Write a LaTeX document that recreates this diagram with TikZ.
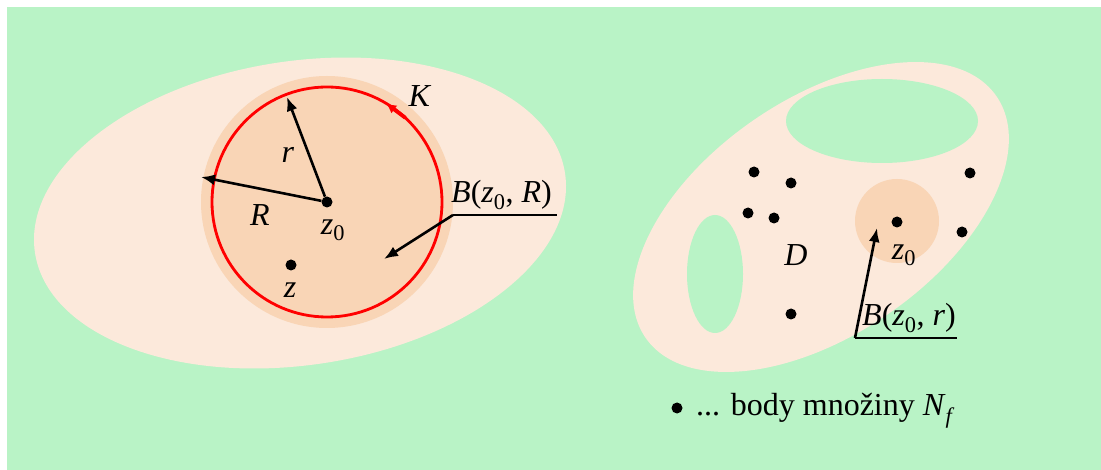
\documentclass[tikz,border=0pt]{standalone}
\usepackage{fontspec}
\setmainfont{Liberation Serif}
\usetikzlibrary{arrows.meta,calc}
\definecolor{bg}{RGB}{185,243,198}
\definecolor{peach}{RGB}{252,233,219}
\definecolor{disk}{RGB}{249,213,182}
\begin{document}
\begin{tikzpicture}[x=1pt,y=-1pt, font=\fontsize{32}{38}\selectfont,
  arr/.style={line width=2.6pt, -{Latex[length=14pt,width=11pt]}},
  dot/.style={circle, fill=black, inner sep=0pt, minimum size=11pt},
  lbl/.style={inner sep=0pt}]
\useasboundingbox (0,0) rectangle (1101,470);
\fill[bg] (7,7) rectangle (1101,470);
% ---------- left region ----------
\fill[peach, rotate around={8.5:(300,213)}] (300,213) ellipse [x radius=268, y radius=152];
\fill[disk] (327,202) circle [radius=126];
\draw[red, line width=2.8pt] (327,202) circle [radius=115];
\draw[red, line width=3.8pt, -{Latex[length=10pt,width=10pt]}] ($(327,202)+(-47:115)$) -- ($(327,202)+(-59:115)$);
\node[dot] (z0a) at (327,202) {};
\node[dot] (za) at (291,265) {};
\coordinate (rtip) at (287,97);
\coordinate (Rtip) at (201,177);
\draw[arr] (z0a) -- (rtip);
\draw[arr] (z0a) -- (Rtip);
\node[lbl] (Kl) at (420,96) {\textit{K}};
\node[lbl] (rl) at (288,155) {\textit{r}};
\node[lbl] (Rl) at (260,215) {\textit{R}};
\node[lbl] (z0la) at (333,230) {\textit{z}\textsubscript{0}};
\node[lbl] (zl) at (290,290) {\textit{z}};
\node[lbl, anchor=base west] (BRl) at (451,203) {\textit{B}(\textit{z}\textsubscript{0}, \textit{R})};
\coordinate (u1) at (453,215);
\coordinate (u2) at (557,215);
\coordinate (BRtip) at (384,259);
\draw[line width=1.3pt] (u1) -- (u2);
\draw[arr] (u1) -- (BRtip);
% ---------- right region ----------
\fill[peach, rotate around={34.5:(821,217)}] (821,217) ellipse [x radius=213, y radius=118];
\fill[bg] (882,121) ellipse [x radius=96, y radius=42];
\fill[bg] (715,274) ellipse [x radius=28, y radius=59];
\fill[disk] (897,221) circle [radius=42];
\node[dot] (p1) at (754,172) {};
\node[dot] (p2) at (791,183) {};
\node[dot] (p3) at (748,213) {};
\node[dot] (p4) at (774,218) {};
\node[dot] (p5) at (970,173) {};
\node[dot] (p6) at (962,232) {};
\node[dot] (p7) at (791,314) {};
\node[dot] (z0b) at (897,222) {};
\node[lbl] (z0lb) at (904,255) {\textit{z}\textsubscript{0}};
\node[lbl] (Dl) at (796,255) {\textit{D}};
\node[lbl, anchor=base west] (Brl) at (862,326) {\textit{B}(\textit{z}\textsubscript{0}, \textit{r})};
\coordinate (v1) at (855,338);
\coordinate (v2) at (957,338);
\coordinate (Brtip) at (877,228);
\draw[line width=1.3pt] (v1) -- (v2);
\draw[arr] (v1) -- (Brtip);
% ---------- legend ----------
\node[dot] (legdot) at (677,408) {};
\node[lbl, anchor=base west] (legtxt) at (696,416) {... body množiny \textit{N}\textsubscript{\textit{f}}};
\end{tikzpicture}
\end{document}
